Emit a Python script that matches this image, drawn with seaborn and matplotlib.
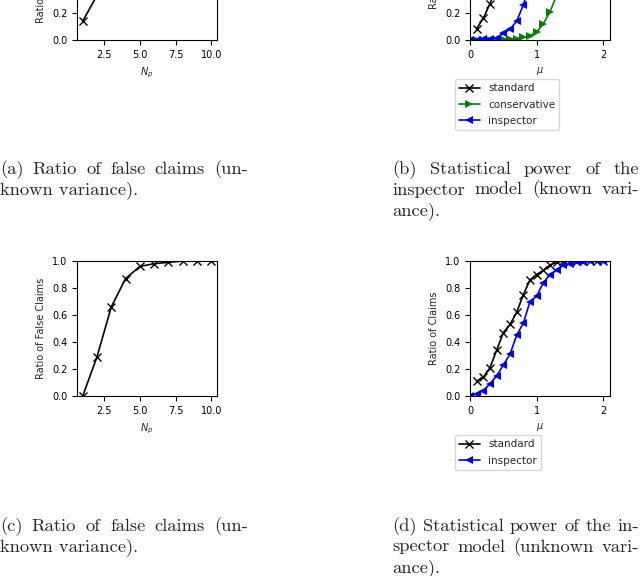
import matplotlib
matplotlib.use("Agg")
import numpy as np
import pandas as pd
import matplotlib.pyplot as plt
import seaborn as sns

# values
n_p = [1, 2, 3, 4, 5, 6, 7, 8, 9, 10]
false_claims_a = [0.14, 0.33, 0.72, 0.92, 0.98, 0.99, 1.0, 1.0, 1.0, 1.0]
false_claims_c = [0.0, 0.29, 0.66, 0.87, 0.96, 0.98, 0.99, 1.0, 1.0, 1.0]

mu_std = [round(0.1 * i, 1) for i in range(1, 21)]
mu_all = [round(0.1 * i, 1) for i in range(0, 21)]

power_b_standard = [0.085, 0.16, 0.27, 0.40, 0.55, 0.69, 0.80, 0.89, 0.95, 0.98,
                    0.99, 1.0, 1.0, 1.0, 1.0, 1.0, 1.0, 1.0, 1.0, 1.0]
power_b_conservative = [0.0, 0.0, 0.0, 0.0, 0.0, 0.005, 0.01, 0.01, 0.02, 0.03, 0.06,
                        0.12, 0.21, 0.33, 0.47, 0.62, 0.75, 0.85, 0.92, 0.96, 0.98]
power_b_inspector = [0.0, 0.003, 0.005, 0.008, 0.015, 0.05, 0.08, 0.14, 0.26, 0.42, 0.58,
                     0.72, 0.83, 0.91, 0.95, 0.98, 0.99, 1.0, 1.0, 1.0, 1.0]

power_d_standard = [0.11, 0.14, 0.21, 0.34, 0.47, 0.53, 0.62, 0.75, 0.86, 0.90,
                    0.93, 0.97, 0.99, 1.0, 1.0, 1.0, 1.0, 1.0, 1.0, 1.0]
power_d_inspector = [0.0, 0.015, 0.04, 0.09, 0.15, 0.23, 0.31, 0.45, 0.54, 0.70, 0.74,
                     0.84, 0.90, 0.93, 0.97, 0.98, 0.99, 0.99, 1.0, 1.0, 1.0]

captions = {
    "a": ["(a) Ratio of false claims (un-", "known variance)."],
    "b": ["(b) Statistical power of the", "inspector model (known vari-", "ance)."],
    "c": ["(c) Ratio of false claims (un-", "known variance)."],
    "d": ["(d) Statistical power of the in-", "spector model (unknown vari-", "ance)."],
}

sns.set_style("ticks")
plt.rcParams["font.family"] = ["DejaVu Sans"]
plt.rcParams["mathtext.fontset"] = "dejavusans"
plt.rcParams["font.size"] = 7
plt.rcParams["axes.edgecolor"] = "black"
plt.rcParams["xtick.color"] = "black"
plt.rcParams["ytick.color"] = "black"

W, H = 640, 576
fig = plt.figure(figsize=(6.4, 5.76), dpi=100)


def add_ax(left, bottom_px):
    # bottom_px = pixel row (from top) of the x axis
    return fig.add_axes([left / W, (H - bottom_px) / H, 140 / W, 135 / H])


ax_a = add_ax(77, 40)
ax_b = add_ax(470, 40)
ax_c = add_ax(77, 396)
ax_d = add_ax(470, 396)

lw = 1.2
ms = 6
std_kw = dict(color="black", marker="x", markersize=ms, markeredgewidth=1.0,
              markeredgecolor="black", linewidth=lw)

# (a) and (c): ratio of false claims
for ax, vals in [(ax_a, false_claims_a), (ax_c, false_claims_c)]:
    sns.lineplot(x=n_p, y=vals, ax=ax, **std_kw)
    ax.set_xlim(0.6, 10.4)
    ax.set_ylim(0, 1)
    ax.set_xlabel("$N_p$")
    ax.set_ylabel("Ratio of False Claims")

# (b): known variance
sns.lineplot(x=mu_std, y=power_b_standard, ax=ax_b, label="standard", **std_kw)
sns.lineplot(x=mu_all, y=power_b_conservative, ax=ax_b, color="green", marker=">",
             markersize=ms, markeredgewidth=0, markeredgecolor="green", linewidth=lw,
             label="conservative")
sns.lineplot(x=mu_all, y=power_b_inspector, ax=ax_b, color="blue", marker="<",
             markersize=ms, markeredgewidth=0, markeredgecolor="blue", linewidth=lw,
             label="inspector")

# (d): unknown variance
sns.lineplot(x=mu_std, y=power_d_standard, ax=ax_d, label="standard", **std_kw)
sns.lineplot(x=mu_all, y=power_d_inspector, ax=ax_d, color="blue", marker="<",
             markersize=ms, markeredgewidth=0, markeredgecolor="blue", linewidth=lw,
             label="inspector")

for ax in (ax_b, ax_d):
    ax.set_xlim(0, 2.1)
    ax.set_ylim(0, 1)
    ax.set_xticks([0, 1, 2])
    ax.set_xlabel(r"$\mu$")
    ax.set_ylabel("Ratio of Claims")
    ax.legend(loc="upper left", bbox_to_anchor=(-0.11, -0.29), borderaxespad=0,
              fontsize=7.5, labelspacing=0.6, frameon=True, fancybox=True,
              framealpha=0.8, edgecolor="0.8")

for ax in (ax_a, ax_b, ax_c, ax_d):
    ax.set_yticks([0, 0.2, 0.4, 0.6, 0.8, 1.0])
    ax.tick_params(labelsize=7, length=3.5, width=0.8)
    for s in ax.spines.values():
        s.set_visible(True)
        s.set_linewidth(0.8)

# justified serif captions
renderer = fig.canvas.get_renderer()
cap_size = 13.3
lead = 20.5


def caption(x0, width, y0, lines):
    for k, line in enumerate(lines):
        y = (H - (y0 + k * lead)) / H
        if k == len(lines) - 1:
            fig.text(x0 / W, y, line, fontsize=cap_size, family="cmr10", va="baseline")
            continue
        words = line.split()
        texts = [fig.text(0, y, w, fontsize=cap_size, family="cmr10", va="baseline")
                 for w in words]
        widths = [t.get_window_extent(renderer).width for t in texts]
        gap = (width - sum(widths)) / (len(words) - 1)
        x = x0
        for t, w in zip(texts, widths):
            t.set_x(x / W)
            x += w + gap


caption(0, 248, 174, captions["a"])
caption(392, 247, 174, captions["b"])
caption(0, 248, 531, captions["c"])
caption(392, 247, 531, captions["d"])

fig.savefig("out.png", dpi=100)
